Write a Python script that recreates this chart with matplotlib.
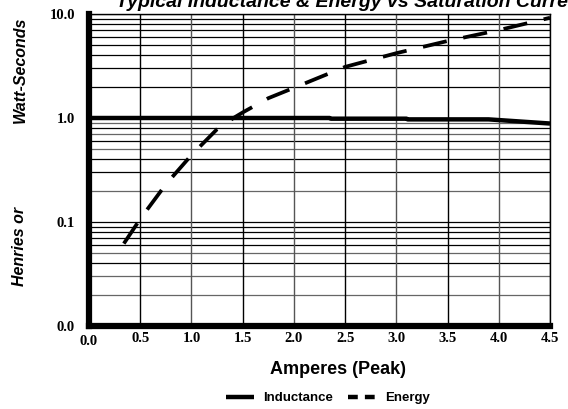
import numpy as np
import matplotlib.pyplot as plt
from matplotlib.lines import Line2D
from matplotlib.ticker import FixedLocator, NullFormatter

# data
ind_x = [0.0, 1.0, 2.0, 2.35, 2.36, 3.1, 3.11, 3.9, 4.5]
ind_y = [1.0, 1.0, 1.0, 1.0, 0.985, 0.985, 0.97, 0.97, 0.885]

en_x = [0.34, 0.5, 0.75, 1.0, 1.25, 1.41, 1.5, 1.75, 2.0, 2.5, 3.0, 3.5, 4.0, 4.5]
en_y = [0.062, 0.107, 0.23, 0.44, 0.78, 1.0, 1.13, 1.55, 1.95, 3.1, 4.2, 5.5, 7.0, 9.2]

xticks = [0.0, 0.5, 1.0, 1.5, 2.0, 2.5, 3.0, 3.5, 4.0, 4.5]
yticks = [0.01, 0.1, 1.0, 10.0]
ylabels = ["0.0", "0.1", "1.0", "10.0"]

fig = plt.figure(figsize=(5.68, 4.09), dpi=100)
ax = fig.add_axes([89 / 568, 1 - 326 / 409, 461 / 568, 312 / 409])

ax.set_yscale("log")
ax.set_xlim(0, 4.5)
ax.set_ylim(0.01, 10)

# grid
minors = [m * 10.0 ** e for e in (-2, -1, 0) for m in range(2, 10)]
grey = {0.9, 0.7, 0.5, 0.05, 0.03, 0.2, 0.02}
for v in minors:
    c = "#666666" if round(v, 3) in grey else "black"
    ax.axhline(v, color=c, lw=0.9, zorder=1)
for v in [0.1, 10.0]:
    ax.axhline(v, color="black", lw=0.9, zorder=1)
for i, v in enumerate(xticks[1:]):
    ax.axvline(v, color="black" if i % 2 == 0 else "#555555", lw=1.0, zorder=1)

ax.plot(ind_x, ind_y, color="black", lw=3.2, solid_capstyle="butt", zorder=3)
ax.plot(en_x, en_y, color="black", lw=2.7, dashes=(6.5, 4.5), zorder=3)

ax.yaxis.set_major_locator(FixedLocator(yticks))
ax.yaxis.set_minor_locator(FixedLocator([]))
ax.yaxis.set_minor_formatter(NullFormatter())
ax.set_yticks(yticks)
ax.set_yticklabels(ylabels)
ax.set_xticks(xticks)
ax.set_xticklabels([f"{v:.1f}" for v in xticks])
ax.tick_params(length=0, labelsize=10.5)
ax.tick_params(axis="y", pad=10)
ax.tick_params(axis="x", pad=4)
for t in ax.get_xticklabels() + ax.get_yticklabels():
    t.set_family("Liberation Serif")
    t.set_fontweight("bold")
ax.get_xticklabels()[0].set_y(-0.012)

ax.spines["left"].set_linewidth(4.5)
ax.spines["bottom"].set_linewidth(4.5)
ax.spines["top"].set_linewidth(1.0)
ax.spines["right"].set_linewidth(1.0)

fig.text(338 / 568, 1 - 370 / 409, "Amperes (Peak)", ha="center", va="center",
         fontsize=13, fontweight="bold", family="Liberation Sans")
fig.text(20 / 568, 1 - 70 / 409, "Watt-Seconds", rotation=90, ha="center",
         va="center", fontsize=11.5, fontweight="bold", style="italic",
         family="Liberation Sans")
fig.text(20 / 568, 1 - 246 / 409, "Henries or", rotation=90, ha="center",
         va="center", fontsize=11.5, fontweight="bold", style="italic",
         family="Liberation Sans")
fig.text(116 / 568, 1 - 7 / 409,
         "Typical Inductance & Energy vs Saturation Current",
         ha="left", va="baseline", fontsize=14, fontweight="bold",
         style="italic", family="Liberation Sans")

handles = [Line2D([], [], color="black", lw=3.2, solid_capstyle="butt"),
           Line2D([], [], color="black", lw=3.2, dashes=(2.2, 1.6))]
fig.legend(handles, ["Inductance", "Energy"], loc="center",
           bbox_to_anchor=(328 / 568, 1 - 398 / 409), ncol=2, frameon=False,
           handlelength=2.1, columnspacing=1.1, handletextpad=0.7,
           prop={"family": "Liberation Sans", "weight": "bold", "size": 9.5})

fig.savefig("out.png", dpi=100)
